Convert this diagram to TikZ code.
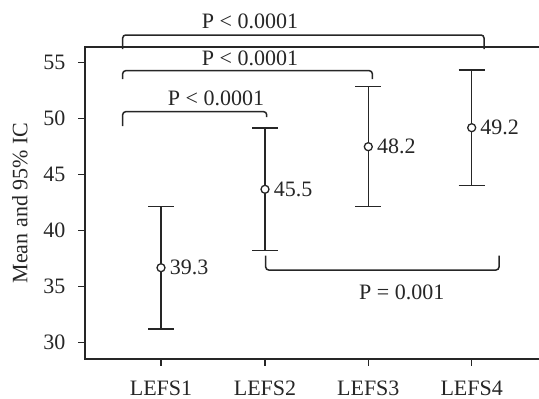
\documentclass[tikz,border=0pt]{standalone}
\usepackage{fontspec}
\setmainfont{Liberation Serif}
\begin{document}
\begin{tikzpicture}[x=1pt,y=-1pt,line width=1.5pt,
  ink/.style={draw=black!85},
  lbl/.style={inner sep=0pt,text=black!85,font=\fontsize{22}{26}\selectfont},
  meanpt/.style={circle,draw=black!85,line width=1.3pt,minimum size=8pt,inner sep=0pt,fill=white},
  brk/.style={draw=black!85,rounded corners=3pt}]
\useasboundingbox (0,0) rectangle (539,399);
\begin{scope}
\clip (0,0) rectangle (539,399);
\draw[ink] (85,47) rectangle (560,359);
\end{scope}
% y ticks
\foreach \v/\y in {55/62.7,50/118.5,45/174.7,40/230.7,35/286.7,30/342.7}{
  \draw[ink] (85,\y) -- (78,\y);
  \node[lbl,anchor=east] at (66,\y) {\v};
}
% x ticks
\foreach \n/\x in {1/161,2/265,3/368.3,4/471.7}{
  \draw[ink] (\x,359) -- (\x,366);
  \node[lbl] (xl\n) at (\x,388) {LEFS\n};
}
\node[lbl,rotate=90] (ylab) at (20,203) {Mean and 95\% IC};
% error bars
\foreach \n/\x/\t/\m/\b/\val in {1/161/206.7/267.7/329/39.3,2/265/128/189.3/250.7/45.5,3/368.3/86.7/146.7/206.7/48.2,4/471.7/70/127.7/185.7/49.2}{
  \coordinate (t\n) at (\x,\t);
  \coordinate (b\n) at (\x,\b);
  \draw[ink] (t\n) -- (b\n);
  \draw[ink] ([xshift=-13pt]t\n) -- ([xshift=13pt]t\n);
  \draw[ink] ([xshift=-13pt]b\n) -- ([xshift=13pt]b\n);
  \node[meanpt] (m\n) at (\x,\m) {};
  \node[lbl,anchor=west] (v\n) at (\x+8,\m) {\val};
}
% brackets
\draw[brk] (122.7,49) -- (122.7,35) -- (484,35) -- (484,49);
\node[lbl] (p1) at (250,21.5) {P < 0.0001};
\draw[brk] (122.7,79) -- (122.7,70.7) -- (372.3,70.7) -- (372.3,79);
\node[lbl] (p2) at (250,58) {P < 0.0001};
\draw[brk] (122.7,126) -- (122.7,111.7) -- (266.7,111.7) -- (266.7,117);
\node[lbl] (p3) at (216,98) {P < 0.0001};
\draw[brk] (265.7,255.7) -- (265.7,270) -- (499,270) -- (499,255.7);
\node[lbl] (p4) at (401.7,292.5) {P = 0.001};
\end{tikzpicture}
\end{document}
